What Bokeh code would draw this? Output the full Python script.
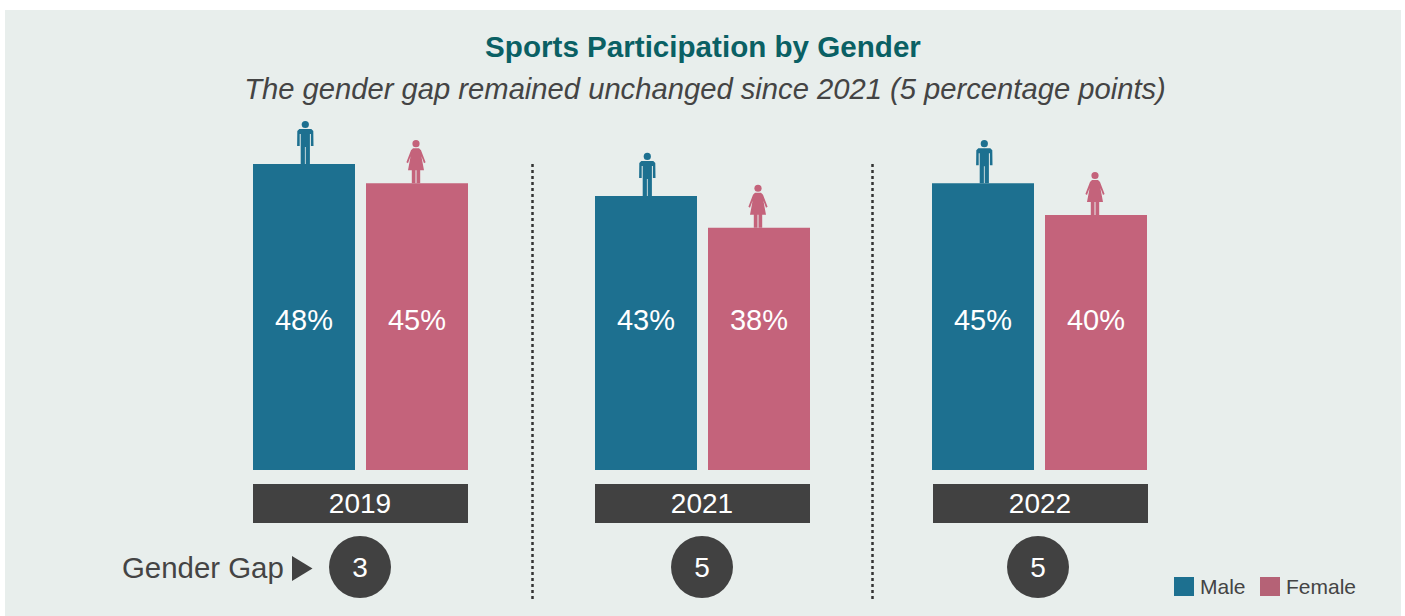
from bokeh.plotting import figure
from bokeh.embed import file_html
from bokeh.resources import INLINE
from bokeh.models import Range1d
from bokeh.core.properties import value

title = "Sports Participation by Gender"
subtitle = "The gender gap remained unchanged since 2021 (5 percentage points)"
years = ["2019", "2021", "2022"]
male = [48, 43, 45]
female = [45, 38, 40]
gap = [3, 5, 5]
gap_label = "Gender Gap"
legend_labels = ["Male", "Female"]

W, H = 1405, 616
BASE = 470
PX = 6.375
FONT = value("Liberation Sans")
C_M, C_F, C_D, C_BG = "#1d7090", "#c4637b", "#414141", "#e8eeec"
C_TXT = "#444444"
lefts = [253, 595, 932]
bar_w = 102
step = 113

p = figure(width=W, height=H, output_backend="svg", toolbar_location=None,
           x_range=Range1d(0.5, W + 0.5), y_range=Range1d(H + 0.5, 0.5),
           min_border=0, outline_line_color=None, background_fill_color="white",
           border_fill_color="white", x_axis_type=None, y_axis_type=None)
p.grid.visible = False
p.extra_y_ranges = {"pct": Range1d((BASE - H - 0.5) / PX, (BASE - 0.5) / PX)}

p.quad(left=[5], right=[1401], top=[10], bottom=[H + 1], fill_color=C_BG, line_color=None)

# bars
p.vbar(x=[l + bar_w / 2 for l in lefts], width=bar_w, bottom=0, top=male,
       fill_color=C_M, line_color=None, y_range_name="pct")
p.vbar(x=[l + step + bar_w / 2 for l in lefts], width=bar_w, bottom=0, top=female,
       fill_color=C_F, line_color=None, y_range_name="pct")


def man(cx, top):
    x = [-8, -6, 6, 8, 8.2, 5.6, 5.6, 4.6, 4.6, 0.4, 0.4, -0.4, -0.4, -4.6, -4.6, -5.6, -5.6, -8.2]
    y = [-33, -35, -35, -33, -18, -18, -30, -30, 0, 0, -17, -17, 0, 0, -30, -30, -18, -18]
    p.patch([cx + a for a in x], [top + b for b in y], fill_color=C_M, line_color=None)
    p.circle(x=[cx], y=[top - 39.5], radius=3.6, fill_color=C_M, line_color=None)


def woman(cx, top):
    x = [-3, 3, 5, 9.6, 8, 5.4, 8, 4.2, 4.2, 0.5, 0.5, -0.5, -0.5, -4.2, -4.2, -8, -5.4, -8, -9.6, -5]
    y = [-35, -35, -33, -21, -20, -27, -13, -13, 0, 0, -13, -13, 0, 0, -13, -13, -27, -20, -21, -33]
    p.patch([cx + a for a in x], [top + b for b in y], fill_color=C_F, line_color=None)
    p.circle(x=[cx], y=[top - 39.5], radius=3.6, fill_color=C_F, line_color=None)


for l, m, f in zip(lefts, male, female):
    man(l + bar_w / 2 + 1.3, BASE - m * PX)
    woman(l + step + bar_w / 2 - 1, BASE - f * PX)

# value labels
p.text(x=[l + bar_w / 2 for l in lefts], y=[320] * 3, text=[f"{v}%" for v in male],
       text_font=FONT, text_font_size="29px", text_color="white", text_align="center", text_baseline="middle")
p.text(x=[l + step + bar_w / 2 for l in lefts], y=[320] * 3, text=[f"{v}%" for v in female],
       text_font=FONT, text_font_size="29px", text_color="white", text_align="center", text_baseline="middle")

# year bands
band_l = [253, 595, 933]
p.quad(left=band_l, right=[b + 215 for b in band_l], top=[484] * 3, bottom=[523] * 3,
       fill_color=C_D, line_color=None)
p.text(x=[b + 107 for b in band_l], y=[503] * 3, text=years, text_font=FONT, text_font_size="28px",
       text_color="white", text_align="center", text_baseline="middle")

# gap circles
cx = [360, 702, 1038]
p.circle(x=cx, y=[567] * 3, radius=31, fill_color=C_D, line_color=None)
p.text(x=cx, y=[567] * 3, text=[str(g) for g in gap], text_font=FONT, text_font_size="28px",
       text_color="white", text_align="center", text_baseline="middle")
p.text(x=[122], y=[567.5], text=[gap_label], text_font=FONT, text_font_size="29.4px",
       text_color=C_TXT, text_align="left", text_baseline="middle")
p.patch([292, 312.5, 292], [556, 568.5, 581], fill_color=C_D, line_color=None)

# separators
for x in (532.5, 872.5):
    p.line([x, x], [164, 600], line_color="#333333", line_width=2.5, line_dash="3 3")

# titles
p.text(x=[703], y=[46], text=[title], text_font=FONT, text_font_style="bold", text_font_size="29.6px",
       text_color="#0a6064", text_align="center", text_baseline="middle")
p.text(x=[705], y=[88.5], text=[subtitle], text_font=FONT, text_font_style="italic", text_font_size="29.2px",
       text_color=C_TXT, text_align="center", text_baseline="middle")

# legend
p.quad(left=[1174, 1260], right=[1194, 1280], top=[577, 577], bottom=[596, 596],
       fill_color=[C_M, "#b56276"], line_color=None)
p.text(x=[1200, 1286], y=[586.5, 586.5], text=legend_labels, text_font=FONT, text_font_size="21px",
       text_color=C_TXT, text_align="left", text_baseline="middle")

open("out.html", "w").write(file_html(p, INLINE))
